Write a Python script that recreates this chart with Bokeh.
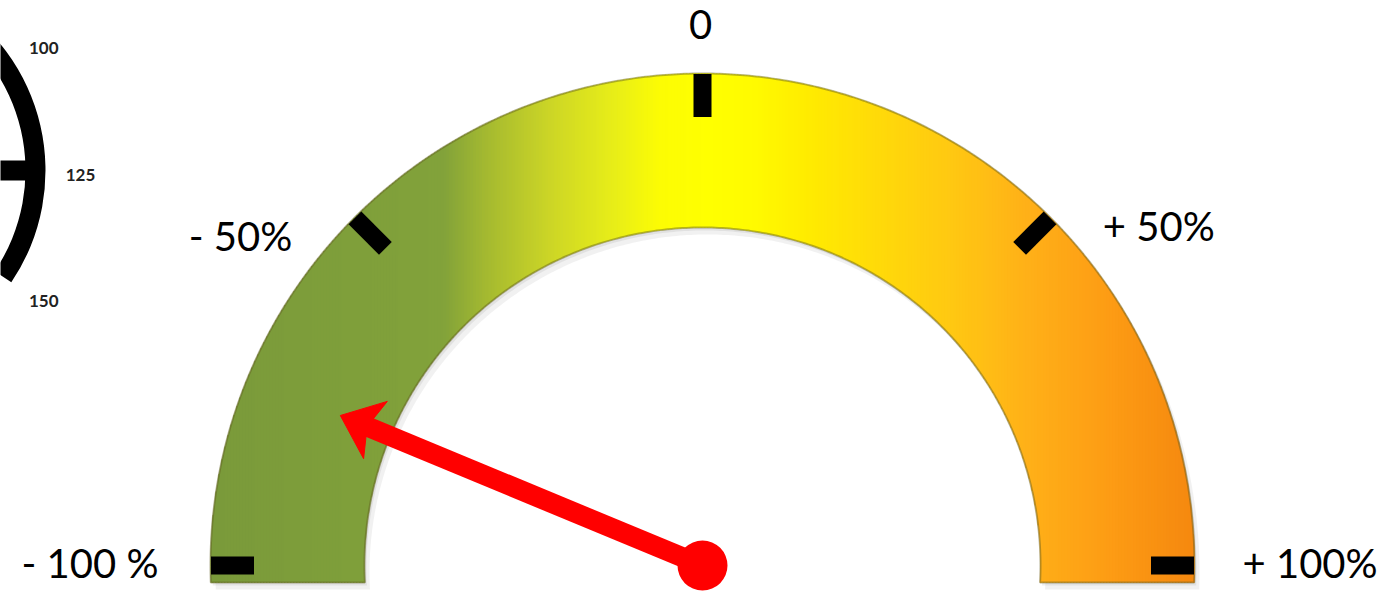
import numpy as np
from bokeh.plotting import figure
from bokeh.models import Range1d
from bokeh.core.properties import value
from bokeh.embed import file_html
from bokeh.resources import INLINE

# ---------------- data ----------------
tick_values = [-100, -50, 0, 50, 100]
tick_labels = ["- 100 %", "- 50%", "0", "+ 50%", "+ 100%"]
needle_value = -75

side_tick_values = [100, 125, 150]
side_tick_labels = ["100", "125", "150"]
side_needle_value = 125

# colour stops of the gauge band (fraction across, colour)
grad_pos = [0.0, 0.237, 0.282, 0.347, 0.411, 0.457, 0.508, 0.554, 0.605, 0.670, 0.754, 0.831, 0.913, 1.0]
grad_col = ["#7a9a3a", "#82a23a", "#a5ba30", "#cdd626", "#e8ee18", "#fcfc04", "#ffff00",
            "#fffa00", "#ffec00", "#ffdc08", "#ffc812", "#ffb018", "#fd9c14", "#f5880f"]

# ---------------- layout ----------------
IMG_W, IMG_H = 1388, 599
def Y(py):
    return IMG_H - py

CX, CY = 702.0, Y(565)
R_OUT, R_IN = 492.0, 338.0
Y_BOT = Y(582)
TICK_R, TICK_LEN, TICK_W = 470.0, 43.0, 18.0
LABEL_R = 535.0
# nudges (dx, dy in data units) to place labels like the original
LABEL_NUDGE = [(-9, 3), (-32, -49), (-2, 6), (22, -39), (5, 3)]
LABEL_ALIGN = ["right", "right", "center", "left", "left"]

SCX, SCY = -155.0, Y(170)
SR_OUT, SR_IN = 200.0, 180.0
S_LABEL_R = 235.0
S_LABEL_CY = Y(174)


def ang(v):
    return np.pi / 2 - v / 100.0 * np.pi / 2


def side_ang(v):
    return np.radians((125 - v) * 1.3)


p = figure(width=IMG_W, height=IMG_H, x_range=Range1d(0, IMG_W), y_range=Range1d(0, IMG_H),
           min_border=0, toolbar_location=None, output_backend="svg",
           x_axis_location=None, y_axis_location=None)
p.grid.visible = False
p.outline_line_color = None
p.background_fill_color = "white"

# ---- arch polygon ----
th_o = np.arcsin((CY - Y_BOT) / R_OUT)
th_i = np.arcsin((CY - Y_BOT) / R_IN)
a_out = np.linspace(-th_o, np.pi + th_o, 400)
a_in = np.linspace(np.pi + th_i, -th_i, 300)
arch_x = np.concatenate([CX + R_OUT * np.cos(a_out), CX + R_IN * np.cos(a_in)])
arch_y = np.concatenate([CY + R_OUT * np.sin(a_out), CY + R_IN * np.sin(a_in)])
arch = list(zip(arch_x, arch_y))


def clip_half(pts, k, sign):
    def inside(q):
        return sign * (q[0] - k) >= 0

    def inter(a, b):
        t = (k - a[0]) / (b[0] - a[0])
        return (k, a[1] + t * (b[1] - a[1]))

    out = []
    n = len(pts)
    for i in range(n):
        cur, prev = pts[i], pts[i - 1]
        ci, pi_ = inside(cur), inside(prev)
        if ci:
            if not pi_:
                out.append(inter(prev, cur))
            out.append(cur)
        elif pi_:
            out.append(inter(prev, cur))
    return out


def hex2rgb(h):
    return [int(h[i:i + 2], 16) for i in (1, 3, 5)]


rgb = np.array([hex2rgb(c) for c in grad_col], dtype=float)

# shadow
p.patch(arch_x + 5, arch_y - 7, fill_color="#888888", fill_alpha=0.12, line_color=None)
p.patch(arch_x + 2, arch_y - 3, fill_color="#777777", fill_alpha=0.12, line_color=None)

# gradient strips
x_left, x_right = CX - R_OUT - 1, CX + R_OUT + 1
edges = np.arange(x_left, x_right + 3, 3.0)
sx, sy, sc = [], [], []
for x0, x1 in zip(edges[:-1], edges[1:]):
    poly = clip_half(arch, x0, 1)
    poly = clip_half(poly, x1 + 0.6, -1)
    if len(poly) < 3:
        continue
    f = ((x0 + x1) / 2 - (CX - R_OUT)) / (2 * R_OUT)
    col = [np.interp(f, grad_pos, rgb[:, j]) for j in range(3)]
    sx.append([q[0] for q in poly])
    sy.append([q[1] for q in poly])
    sc.append("#%02x%02x%02x" % tuple(int(round(c)) for c in col))
p.patches(sx, sy, fill_color=sc, line_color=sc, line_width=0.6)

# bevel outline
p.patch(arch_x, arch_y, fill_color=None, line_color="#5f5a20", line_alpha=0.45, line_width=2)

# ---- ticks ----
ta = np.array([ang(v) for v in tick_values])
p.rect(x=CX + TICK_R * np.cos(ta), y=CY + TICK_R * np.sin(ta), width=TICK_LEN, height=TICK_W,
       angle=ta, fill_color="black", line_color=None)

# ---- labels ----
for v, lab, (dx, dy), al in zip(tick_values, tick_labels, LABEL_NUDGE, LABEL_ALIGN):
    a = ang(v)
    p.text(x=[CX + LABEL_R * np.cos(a) + dx], y=[CY + LABEL_R * np.sin(a) + dy], text=[lab],
           text_font=value("Lato"), text_font_size="40px", text_color="black",
           text_align=al, text_baseline="middle")

# ---- needle ----
NL, HL, HW, NOTCH = 392.0, 38.0, 31.0, 9.0
a = ang(needle_value)
u = np.array([np.cos(a), np.sin(a)])
nv = np.array([-np.sin(a), np.cos(a)])
c = np.array([CX, CY])
tip = c + NL * u
base = c + (NL - HL) * u
notch = c + (NL - HL + NOTCH) * u
w1 = base + HW * nv
w2 = base - HW * nv
p.segment(x0=[CX], y0=[CY], x1=[notch[0] + 2 * u[0]], y1=[notch[1] + 2 * u[1]],
          line_color="#ff0000", line_width=20, line_cap="butt")
p.patch([tip[0], w1[0], notch[0], w2[0]], [tip[1], w1[1], notch[1], w2[1]],
        fill_color="#ff0000", line_color="#ff0000", line_width=1)
p.circle(x=[CX], y=[CY], radius=25, fill_color="#ff0000", line_color=None)

# ---- partial side gauge ----
p.annular_wedge(x=[SCX], y=[SCY], inner_radius=SR_IN, outer_radius=SR_OUT,
                start_angle=np.radians(-34), end_angle=np.radians(60),
                fill_color="black", line_color=None)
sa = side_ang(side_needle_value)
p.segment(x0=[SCX], y0=[SCY], x1=[SCX + SR_IN * np.cos(sa) + 1], y1=[SCY + SR_IN * np.sin(sa)],
          line_color="black", line_width=20, line_cap="butt")
sang = np.array([side_ang(v) for v in side_tick_values])
p.text(x=SCX + S_LABEL_R * np.cos(sang), y=S_LABEL_CY + S_LABEL_R * np.sin(sang), text=side_tick_labels,
       text_font=value("Lato"), text_font_size="17px", text_font_style="bold", text_color="#222222",
       text_align="center", text_baseline="middle")

open("out.html", "w").write(file_html(p, INLINE))
